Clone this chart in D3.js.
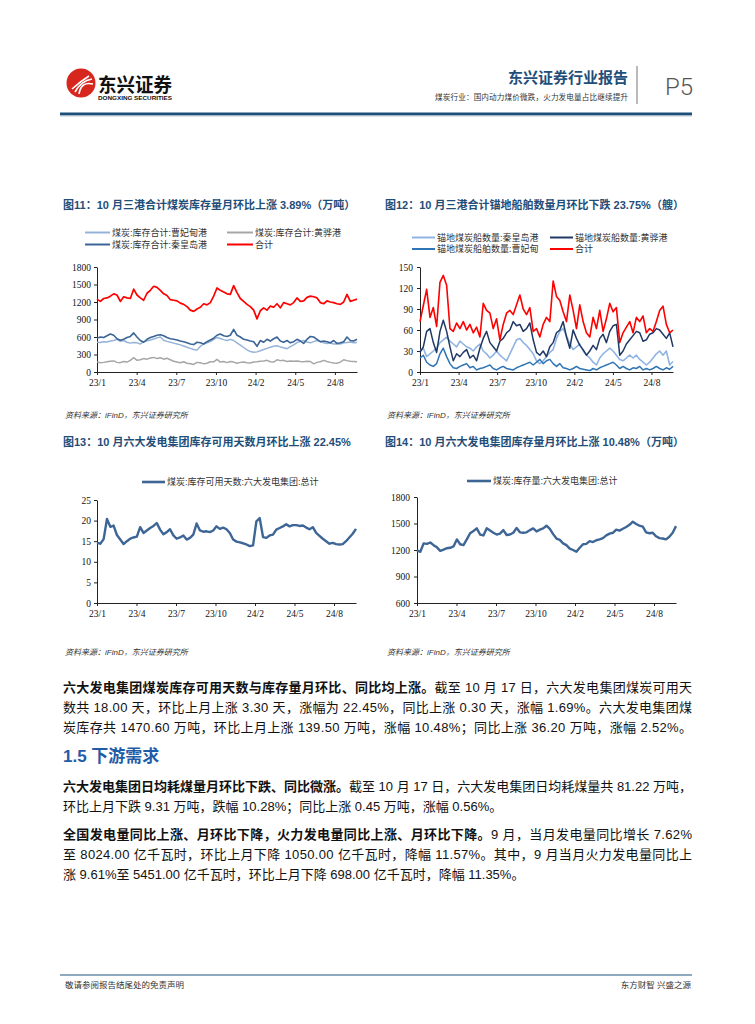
<!DOCTYPE html>
<html><head><meta charset="utf-8">
<script src="https://cdn.jsdelivr.net/npm/d3@7"></script>
<style>
html,body{margin:0;padding:0;background:#fff;}
svg{display:block;}
</style></head>
<body>
<svg id="page" width="755" height="1024"></svg>
<script>
// ---------------- DATA ----------------
const monthLabels = ["23/1","23/4","23/7","23/10","24/2","24/5","24/8"];

// Figure 11: three-port coal stock (10k t)
const c11Names = ["煤炭:库存合计:曹妃甸港","煤炭:库存合计:黄骅港","煤炭:库存合计:秦皇岛港","合计"];
const c11Caofeidian = [510,505,520,515,530,540,560,525,540,510,
  495,505,500,480,520,535,550,565,585,600,
  545,525,510,495,480,465,445,425,405,385,
  375,440,480,500,520,560,590,575,555,540,
  560,540,500,460,420,380,350,340,345,365,
  385,405,425,440,450,430,415,400,435,465,
  505,525,540,515,500,520,540,520,500,490,
  495,480,485,480,500,505,515,500,505];
const c11Huanghua = [170,160,165,175,185,190,165,160,180,170,
  200,245,200,210,230,220,240,250,230,245,
  220,235,210,185,170,160,175,150,140,130,
  165,160,140,150,175,175,215,170,180,160,
  180,170,150,165,170,160,155,170,175,185,
  190,200,175,170,210,195,200,180,190,185,
  190,180,175,185,180,140,165,175,200,180,
  165,155,150,170,210,195,185,180,175];
const c11Qinhuangdao = [580,600,590,620,650,630,570,545,560,590,
  610,670,600,540,510,560,590,610,630,640,
  620,590,570,560,550,530,520,500,480,470,
  510,500,480,520,550,580,630,650,620,610,
  630,730,630,600,560,550,530,520,440,540,
  510,560,530,570,600,530,510,540,500,520,
  560,530,490,560,610,600,560,520,530,520,
  500,540,490,500,520,600,540,530,560];
const c11Total = [1250,1210,1260,1270,1300,1340,1320,1210,1290,1270,
  1260,1420,1320,1270,1230,1350,1400,1470,1450,1400,
  1340,1310,1240,1230,1220,1180,1160,1120,1060,1040,
  1080,1110,1170,1150,1190,1300,1440,1400,1370,1340,
  1330,1480,1360,1260,1210,1160,1120,1060,910,1050,
  1100,1060,1130,1110,1170,1100,1190,1170,1150,1190,
  1270,1210,1220,1280,1300,1290,1270,1190,1170,1220,
  1200,1190,1170,1160,1200,1330,1210,1230,1250];
const c11YTicks = [0,300,600,900,1200,1500,1800];

// Figure 12: anchored coal ships (count)
const c12Names = ["锚地煤炭船数量:秦皇岛港","锚地煤炭船数量:黄骅港","锚地煤炭船舶数量:曹妃甸","合计"];
const c12Qinhuangdao = [30,34,22,26,30,34,42,46,50,44,
  40,36,44,40,36,34,30,36,40,30,
  26,20,24,30,24,20,16,26,36,46,
  48,42,38,32,26,16,12,16,22,28,
  32,48,58,62,52,40,32,36,40,30,
  24,20,14,10,20,26,30,34,30,24,
  18,16,20,24,20,24,18,14,10,14,
  20,26,30,24,30,10,15];
const c12Huanghua = [28,36,58,62,42,28,58,74,58,36,
  16,26,22,28,32,20,24,16,34,48,
  58,42,36,30,44,48,56,60,72,66,
  68,58,62,70,46,28,24,30,22,36,
  42,56,60,72,50,34,60,48,38,32,
  24,30,38,32,48,54,42,58,66,68,
  24,30,40,46,52,58,56,44,46,54,
  56,62,60,54,48,56,36];
const c12Caofeidian = [20,24,14,10,8,12,26,34,22,12,
  6,5,8,10,12,6,8,3,5,6,
  8,10,5,3,6,8,5,4,3,6,
  8,10,12,14,10,14,18,12,16,18,
  12,8,12,6,5,3,5,8,5,4,
  3,2,5,3,6,8,10,12,14,10,
  5,8,5,3,6,5,8,3,5,3,
  5,8,5,3,6,4,8];
const c12Total = [72,95,118,78,92,65,128,138,124,62,
  58,70,62,72,60,68,56,64,50,98,
  88,84,62,76,46,68,84,88,82,96,
  110,90,82,92,58,62,50,68,78,72,
  130,108,102,86,72,110,88,62,96,72,
  56,50,78,62,88,58,76,98,86,92,
  42,56,64,72,56,78,72,80,56,62,
  58,72,88,94,68,56,60];
const c12YTicks = [0,30,60,90,120,150];

// Figure 13: six power groups, usable days
const c13Name = "煤炭:库存可用天数:六大发电集团:总计";
const c13Days = [14.6,14.4,15.5,20.4,18.5,18.8,16.5,15.4,14.3,15.0,
  15.6,15.9,16.1,18.4,17.0,17.6,18.2,18.7,19.4,17.8,
  16.7,17.2,17.9,16.4,15.6,15.9,16.4,15.4,15.8,16.6,
  19.3,17.6,17.3,17.4,17.2,17.6,18.6,18.0,18.3,17.9,
  17.0,15.4,14.9,14.7,14.5,14.2,13.8,14.0,19.8,20.6,
  16.0,15.8,16.4,16.6,17.8,18.2,18.6,19.1,18.6,18.9,
  18.9,18.7,18.8,18.3,17.9,18.4,17.0,16.3,15.6,15.0,
  14.4,14.6,14.3,14.2,14.3,15.0,15.9,16.8,18.0];
const c13YTicks = [0,5,10,15,20,25];

// Figure 14: six power groups, stock (10k t)
const c14Name = "煤炭:库存量:六大发电集团:总计";
const c14Stock = [1195,1180,1275,1270,1285,1255,1230,1190,1205,1220,
  1225,1240,1320,1265,1255,1320,1390,1415,1445,1375,
  1365,1445,1420,1395,1375,1385,1425,1370,1375,1395,
  1450,1400,1395,1400,1425,1445,1410,1430,1445,1475,
  1440,1380,1330,1315,1275,1255,1215,1200,1180,1225,
  1265,1270,1300,1290,1310,1320,1335,1365,1385,1395,
  1430,1420,1440,1460,1485,1520,1495,1475,1465,1400,
  1390,1395,1355,1335,1330,1320,1350,1395,1470];
const c14YTicks = [600,900,1200,1500,1800];

// ---------------- DRAWING ----------------
const svg = d3.select("#page");
const CJK = "'Liberation Sans','Noto Sans CJK SC',sans-serif";
const SERIF = "'Liberation Serif','Noto Serif CJK SC',serif";
const TITLE_BLUE = "#1f4e79";
const TICK_FRAC = 0.1525;

// Header
const logo = svg.append("g");
logo.append("circle").attr("cx",81).attr("cy",83).attr("r",14.5).attr("fill","#d7261e");
[[-9,6,8,-7],[-6,9,11,-4],[-2,11,12,1]].forEach(p=>{
  logo.append("path").attr("d",`M${81+p[0]},${83+p[1]} Q${81},${83-2} ${81+p[2]},${83+p[3]}`)
    .attr("fill","none").attr("stroke","#fff").attr("stroke-width",1.6);
});
logo.append("text").attr("x",98).attr("y",92).attr("font-family",CJK).attr("font-weight","bold")
  .attr("font-size",19).attr("fill","#111").attr("textLength",74).attr("lengthAdjust","spacingAndGlyphs").text("东兴证券");
logo.append("text").attr("x",98).attr("y",100).attr("font-family",CJK).attr("font-weight","bold")
  .attr("font-size",5.6).attr("fill","#111").attr("textLength",74).attr("lengthAdjust","spacingAndGlyphs").text("DONGXING SECURITIES");

svg.append("text").attr("x",628).attr("y",83).attr("text-anchor","end").attr("font-family",CJK)
  .attr("font-weight","bold").attr("font-size",15).attr("fill",TITLE_BLUE).text("东兴证券行业报告");
svg.append("text").attr("x",435).attr("y",100).attr("font-family",CJK).attr("font-size",7.6).attr("fill","#333")
  .attr("textLength",193).attr("lengthAdjust","spacing").text("煤炭行业：国内动力煤价微跌，火力发电量占比继续提升");
svg.append("line").attr("x1",637).attr("x2",637).attr("y1",66).attr("y2",104).attr("stroke","#777").attr("stroke-width",1);
svg.append("text").attr("x",665).attr("y",95).attr("font-family","Roboto,'Liberation Sans',sans-serif").attr("font-weight",300)
  .attr("font-size",24).attr("fill","#555").text("P5");
svg.append("rect").attr("x",60).attr("y",112.5).attr("width",632).attr("height",3).attr("fill","#1f4e79");
svg.append("rect").attr("x",60).attr("y",115.5).attr("width",632).attr("height",1).attr("fill","#b7c7d8");

// Titles
function title(x,y,t){
  svg.append("text").attr("x",x).attr("y",y).attr("font-family",CJK).attr("font-weight","bold")
    .attr("font-size",11).attr("fill",TITLE_BLUE).text(t);
}
title(63,209,"图11：10 月三港合计煤炭库存量月环比上涨 3.89%（万吨）");
title(385,209,"图12：10 月三港合计锚地船舶数量月环比下跌 23.75%（艘）");
title(63,446,"图13：10 月六大发电集团库存可用天数月环比上涨 22.45%");
title(385,446,"图14：10 月六大发电集团库存量月环比上涨 10.48%（万吨）");

function source(x,y){
  svg.append("text").attr("x",x).attr("y",y).attr("font-family",CJK).attr("font-style","italic")
    .attr("font-size",8).attr("fill","#333").text("资料来源：iFinD，东兴证券研究所");
}
source(65,418); source(387,418); source(65,655); source(387,655);

function legendItem(x,y,len,color,width,label){
  svg.append("line").attr("x1",x).attr("x2",x+len).attr("y1",y).attr("y2",y)
    .attr("stroke",color).attr("stroke-width",width);
  svg.append("text").attr("x",x+len+2).attr("y",y+3.2).attr("font-family",CJK).attr("font-size",9)
    .attr("fill","#333").text(label);
}

function drawChart(o){
  const g = svg.append("g");
  const n = o.series[0].values.length;
  const x = d3.scaleLinear().domain([0,n-1]).range([o.x0,o.x1]);
  const y = d3.scaleLinear().domain([o.yTicks[0],o.yTicks[o.yTicks.length-1]]).range([o.yBottom,o.yTop]);
  const yAxis = d3.axisLeft(y).tickValues(o.yTicks).tickFormat(d3.format("d")).tickSize(3).tickSizeOuter(0).tickPadding(o.yPad||3);
  const ya = g.append("g").attr("transform",`translate(${o.x0},0)`).call(yAxis);
  ya.selectAll("text").attr("font-family",SERIF).attr("font-size",9.5).attr("fill","#111");
  ya.selectAll("line,path").attr("stroke","#222");
  const step = (n-1)*TICK_FRAC;
  const xt = monthLabels.map((l,i)=>i*step);
  const xAxis = d3.axisBottom(x).tickValues(xt).tickFormat((d,i)=>monthLabels[i]).tickSize(3).tickSizeOuter(0).tickPadding(4);
  const xa = g.append("g").attr("transform",`translate(0,${o.yBottom})`).call(xAxis);
  xa.selectAll("text").attr("font-family",SERIF).attr("font-size",9.5).attr("fill","#111");
  xa.selectAll("line,path").attr("stroke","#222");
  const line = d3.line().x((d,i)=>x(i)).y(d=>y(d)).curve(d3.curveLinear);
  o.series.forEach(s=>{
    g.append("path").datum(s.values).attr("d",line).attr("fill","none")
      .attr("stroke",s.color).attr("stroke-width",s.width).attr("stroke-linejoin","round");
  });
}

// Figure 11
const c11Colors = ["#95b3d7","#a6a6a6","#3b6597","#ff0000"];
drawChart({x0:97,x1:357,yTop:267,yBottom:372,yTicks:c11YTicks,series:[
  {values:c11Caofeidian,color:c11Colors[0],width:1.5},
  {values:c11Huanghua,color:c11Colors[1],width:1.5},
  {values:c11Qinhuangdao,color:c11Colors[2],width:1.6},
  {values:c11Total,color:c11Colors[3],width:1.7}]});
legendItem(85,232.5,25,c11Colors[0],2,c11Names[0]);
legendItem(227,232.5,26,c11Colors[1],2,c11Names[1]);
legendItem(85,244.5,25,c11Colors[2],2,c11Names[2]);
legendItem(227,244.5,26,c11Colors[3],2,c11Names[3]);

// Figure 12
const c12Colors = ["#8fb4e3","#1f3864","#2e75b6","#ff0000"];
drawChart({x0:420,x1:673,yTop:267,yBottom:372,yTicks:c12YTicks,yPad:4,series:[
  {values:c12Qinhuangdao,color:c12Colors[0],width:1.6},
  {values:c12Huanghua,color:c12Colors[1],width:1.5},
  {values:c12Caofeidian,color:c12Colors[2],width:1.5},
  {values:c12Total,color:c12Colors[3],width:1.6}]});
legendItem(412,237.5,23,c12Colors[0],2,c12Names[0]);
legendItem(550,237.5,23,c12Colors[1],2,c12Names[1]);
legendItem(412,249,23,c12Colors[2],2,c12Names[2]);
legendItem(550,249,23,c12Colors[3],2,c12Names[3]);

// Figure 13
const steel = "#3d6595";
drawChart({x0:97,x1:356,yTop:500,yBottom:603,yTicks:c13YTicks,series:[
  {values:c13Days,color:steel,width:2.4}]});
legendItem(142,482,23,steel,2.6,c13Name);

// Figure 14
drawChart({x0:417,x1:676,yTop:497,yBottom:603,yTicks:c14YTicks,yPad:4,series:[
  {values:c14Stock,color:steel,width:2.4}]});
legendItem(467,481,24,steel,2.6,c14Name);

// Body text
const BODY = "'Liberation Sans','Noto Sans CJK SC',sans-serif";
function bodyLine(y,bold,rest,justify){
  const t = svg.append("text").attr("x",63).attr("y",y).attr("font-family",BODY).attr("font-size",13).attr("fill","#111");
  if(bold) t.append("tspan").attr("font-weight","bold").text(bold);
  if(rest) t.append("tspan").text(rest);
  if(justify) t.attr("textLength",629).attr("lengthAdjust","spacing");
}
bodyLine(692,"六大发电集团煤炭库存可用天数与库存量月环比、同比均上涨。","截至 10 月 17 日，六大发电集团煤炭可用天",true);
bodyLine(712,null,"数共 18.00 天，环比上月上涨 3.30 天，涨幅为 22.45%，同比上涨 0.30 天，涨幅 1.69%。六大发电集团煤",true);
bodyLine(732,null,"炭库存共 1470.60 万吨，环比上月上涨 139.50 万吨，涨幅 10.48%；同比上涨 36.20 万吨，涨幅 2.52%。",true);
svg.append("text").attr("x",63).attr("y",762).attr("font-family",BODY).attr("font-weight","bold")
  .attr("font-size",17).attr("fill","#1f5ca8").text("1.5 下游需求");
bodyLine(791,"六大发电集团日均耗煤量月环比下跌、同比微涨。","截至 10 月 17 日，六大发电集团日均耗煤量共 81.22 万吨，",true);
bodyLine(811,null,"环比上月下跌 9.31 万吨，跌幅 10.28%；同比上涨 0.45 万吨，涨幅 0.56%。",false);
bodyLine(839,"全国发电量同比上涨、月环比下降，火力发电量同比上涨、月环比下降。","9 月，当月发电量同比增长 7.62%",true);
bodyLine(859,null,"至 8024.00 亿千瓦时，环比上月下降 1050.00 亿千瓦时，降幅 11.57%。其中，9 月当月火力发电量同比上",true);
bodyLine(879,null,"涨 9.61%至 5451.00 亿千瓦时，环比上月下降 698.00 亿千瓦时，降幅 11.35%。",false);

// Footer
svg.append("rect").attr("x",60).attr("y",974).attr("width",632).attr("height",2).attr("fill","#8eaabf");
svg.append("text").attr("x",65).attr("y",988).attr("font-family",CJK).attr("font-size",8.5).attr("fill","#333").text("敬请参阅报告结尾处的免责声明");
svg.append("text").attr("x",691).attr("y",988).attr("text-anchor","end").attr("font-family",CJK).attr("font-size",8.5).attr("fill","#333").text("东方财智 兴盛之源");
</script>
</body></html>
